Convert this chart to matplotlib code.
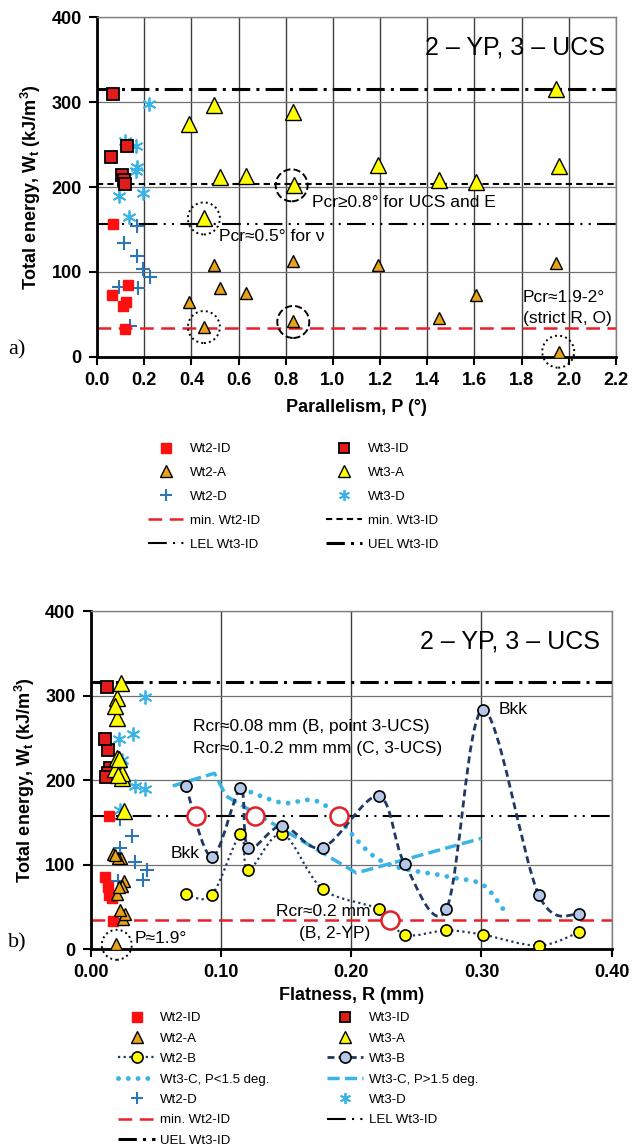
import numpy as np
import matplotlib
matplotlib.use('Agg')
import matplotlib.pyplot as plt
from matplotlib.lines import Line2D
from matplotlib.path import Path
from matplotlib.patches import PathPatch, Circle
from matplotlib.transforms import ScaledTranslation
from matplotlib.ticker import FormatStrFormatter

plt.rcParams['font.family'] = ['Liberation Sans', 'DejaVu Sans']
plt.rcParams['mathtext.fontset'] = 'custom'
plt.rcParams['mathtext.rm'] = 'Liberation Sans'
plt.rcParams['mathtext.bf'] = 'Liberation Sans:bold'

# ---- reference levels (kJ/m3)
uel_wt3 = 316
lel_wt3 = 157
min_wt3 = 203
min_wt2 = 34

# ---- a) parallelism
p_wt2_id = [0.069, 0.062, 0.109, 0.123, 0.133, 0.119]
w_wt2_id = [157, 73, 60, 64, 85, 33]
p_wt3_id = [0.068, 0.060, 0.128, 0.105, 0.115, 0.120]
w_wt3_id = [310, 235, 248, 214, 208, 203]
p_wt2_a = [0.496, 0.521, 0.630, 0.390, 0.453, 0.832, 0.832, 1.189, 1.449, 1.605, 1.944, 1.959]
w_wt2_a = [108, 81, 75, 65, 35, 113, 42, 108, 46, 73, 111, 6]
p_wt3_a = [0.390, 0.496, 0.521, 0.630, 0.832, 0.836, 0.453, 1.189, 1.449, 1.605, 1.944, 1.959]
w_wt3_a = [274, 297, 212, 213, 288, 202, 163, 226, 208, 206, 315, 225]
p_wt2_d = [0.168, 0.116, 0.168, 0.196, 0.225, 0.093, 0.175, 0.140]
w_wt2_d = [154, 134, 119, 103, 94, 82, 81, 36]
p_wt3_d = [0.220, 0.119, 0.165, 0.171, 0.165, 0.095, 0.196, 0.137]
w_wt3_d = [298, 254, 248, 224, 219, 189, 193, 165]
# highlighted points
p_circ = [0.825, 0.832, 0.453, 0.453, 1.955]
w_circ = [202, 41, 163, 35, 6]
circ_ls = ['--', '--', ':', ':', ':']

# ---- b) flatness
r_wt2_id = [0.014, 0.013, 0.016, 0.014, 0.011, 0.017]
r_wt3_id = [0.0128, 0.0135, 0.011, 0.0148, 0.013, 0.0115]
r_wt2_a = [0.0235, 0.0256, 0.0238, 0.0204, 0.025, 0.0174, 0.026, 0.021, 0.0225, 0.022, 0.019, 0.0197]
r_wt3_a = [0.020, 0.0204, 0.022, 0.019, 0.0187, 0.024, 0.0256, 0.0205, 0.0238, 0.021, 0.023, 0.0215]
r_wt2_d = [0.0225, 0.0315, 0.0225, 0.034, 0.043, 0.0404, 0.021, 0.0238]
r_wt3_d = [0.0417, 0.0327, 0.0217, 0.0237, 0.0225, 0.0417, 0.034, 0.0225]
r_b = [0.073, 0.093, 0.115, 0.121, 0.147, 0.178, 0.221, 0.241, 0.273, 0.301, 0.344, 0.375]
w_wt2_b = [65, 64, 136, 93, 136, 71, 47, 17, 22, 17, 4, 20]
w_wt3_b = [193, 109, 190, 120, 146, 120, 181, 101, 47, 283, 64, 41]
r_wt3_c_lo = [0.116, 0.147, 0.178, 0.221, 0.273, 0.301, 0.319]
w_wt3_c_lo = [190, 173, 172, 106, 86, 76, 42]
r_wt3_c_hi = [0.063, 0.095, 0.104, 0.204, 0.300]
w_wt3_c_hi = [193, 208, 181, 90, 131]
r_rcr = [0.081, 0.126, 0.191, 0.230]
w_rcr = [157, 157, 157, 34]
r_circ = [0.020]
w_circ_b = [5]

# ---- styles
RED = '#FF1010'
ORANGE = '#E8A317'
YELLOW = '#FFFF00'
BLUE = '#2E75B6'
LBLUE = '#3AB4E6'
NAVY = '#1F3864'
PALEBLUE = '#B4C7E7'

st_wt2_id = dict(marker='s', ls='none', mfc=RED, mec=RED, ms=7)
st_wt3_id = dict(marker='s', ls='none', mfc='#E41B1B', mec='black', mew=1.3, ms=8.5)
st_wt2_a = dict(marker='^', ls='none', mfc=ORANGE, mec='black', mew=1.0, ms=8)
st_wt3_a = dict(marker='^', ls='none', mfc=YELLOW, mec='black', mew=1.0, ms=11)
st_wt2_d = dict(marker='+', ls='none', color=BLUE, mew=1.5, ms=10)
st_wt3_d = dict(marker=(6, 2, 0), ls='none', color=LBLUE, mew=1.3, ms=10)
st_min2 = dict(color='#E8202A', lw=1.8, ls=(0, (5.5, 3)))
st_min3 = dict(color='black', lw=1.5, ls=(0, (3, 2)))
st_lel = dict(color='black', lw=1.5, ls=(0, (9, 3, 1, 3, 1, 3)))
st_uel = dict(color='black', lw=2.2, ls=(0, (6, 2, 1, 2)))
st_b2 = dict(color=NAVY, lw=1.6, ls=(0, (1, 1.5)))
st_b3 = dict(color=NAVY, lw=2.0, ls=(0, (2.5, 1.5)))
st_c_lo = dict(color=LBLUE, lw=3.5, ls=(0, (0.01, 2)), capstyle='round')
st_c_hi = dict(color=LBLUE, lw=2.5, ls=(0, (3.5, 1.5)))

ANN = 12.5


def smoothPath(x, y):
  # excel-like smoothed line through the points (catmull-rom as bezier)
  pts = np.column_stack([x, y]).astype(float)
  n = len(pts)
  verts = [pts[0]]
  codes = [Path.MOVETO]
  for i in range(n - 1):
    p0 = pts[max(i - 1, 0)]
    p1 = pts[i]
    p2 = pts[i + 1]
    p3 = pts[min(i + 2, n - 1)]
    verts += [p1 + (p2 - p0) / 6, p2 - (p3 - p1) / 6, p2]
    codes += [Path.CURVE4] * 3
  return Path(verts, codes)


def addSmooth(ax, x, y, st):
  st = dict(st)
  cap = st.pop('capstyle', 'butt')
  patch = PathPatch(smoothPath(x, y), fill=False, ec=st['color'], lw=st['lw'],
                    ls=st['ls'], capstyle=cap, zorder=3)
  ax.add_patch(patch)


def ringAt(ax, fig, x, y, ls, r=0.16):
  tr = fig.dpi_scale_trans + ScaledTranslation(x, y, ax.transData)
  ax.add_patch(Circle((0, 0), r, transform=tr, fill=False, ec='black', lw=1.4, ls=ls,
                      zorder=6, clip_on=False))


def styleAxes(ax):
  for s in ['left', 'bottom']:
    ax.spines[s].set_linewidth(2)
    ax.spines[s].set_color('black')
  for s in ['top', 'right']:
    ax.spines[s].set_linewidth(1)
    ax.spines[s].set_color('#808080')
  ax.tick_params(direction='out', length=6, width=1.5, labelsize=13, pad=5, top=False, right=False)
  for lab in ax.get_xticklabels() + ax.get_yticklabels():
    lab.set_fontweight('bold')
  ax.grid(True, axis='x', color='#404040', lw=1.0)
  ax.grid(True, axis='y', color='#707070', lw=0.9)
  ax.set_axisbelow(True)
  ax.set_ylim(0, 400)
  ax.set_yticks([0, 100, 200, 300, 400])
  ax.set_ylabel(r'Total energy, W$_{\mathbf{t}}$ (kJ/m$^{\mathbf{3}}$)', fontsize=13, fontweight='bold', labelpad=6)


def hlines(ax, levels):
  for lev, st in levels:
    ax.axhline(lev, zorder=2, **st)


def lh(st, **kw):
  st = dict(st)
  st.update(kw)
  cap = st.pop('capstyle', None)
  h = Line2D([], [], **st)
  if cap:
    h.set_dash_capstyle(cap)
  return h


fig = plt.figure(figsize=(6.32, 11.46), dpi=100)

# ================= a) =================
ax1 = fig.add_axes([0.1535, 0.6887, 0.8212, 0.2962])
hlines(ax1, [(uel_wt3, st_uel), (min_wt3, st_min3), (lel_wt3, st_lel), (min_wt2, st_min2)])
ax1.plot(p_wt2_d, w_wt2_d, zorder=4, **st_wt2_d)
ax1.plot(p_wt3_d, w_wt3_d, zorder=4, **st_wt3_d)
ax1.plot(p_wt2_id, w_wt2_id, zorder=5, **st_wt2_id)
ax1.plot(p_wt3_id, w_wt3_id, zorder=5, **st_wt3_id)
ax1.plot(p_wt2_a, w_wt2_a, zorder=5, **st_wt2_a)
ax1.plot(p_wt3_a, w_wt3_a, zorder=5, **st_wt3_a)
ax1.set_xlim(0, 2.2)
ax1.set_xticks(np.arange(0, 2.21, 0.2))
ax1.xaxis.set_major_formatter(FormatStrFormatter('%.1f'))
styleAxes(ax1)
ax1.set_xlabel('Parallelism, P (°)', fontsize=13, fontweight='bold', labelpad=7)
for x, y, ls in zip(p_circ, w_circ, circ_ls):
  ringAt(ax1, fig, x, y, ls)

ax1.text(2.153, 365, '2 – YP, 3 – UCS', fontsize=18, ha='right', va='center')
ax1.text(0.911, 182, 'Pcr≥0.8° for UCS and E', fontsize=ANN, va='center')
ax1.text(0.517, 142, 'Pcr≈0.5° for ν', fontsize=ANN, va='center')
ax1.text(1.805, 70, 'Pcr≈1.9-2°', fontsize=ANN, va='center')
ax1.text(1.805, 45, '(strict R, O)', fontsize=ANN, va='center')
fig.text(8 / 632, 1 - 350 / 1146, 'a)', family='Liberation Serif', fontsize=16, va='center')

h1 = [lh(st_wt2_id), lh(st_wt2_a), lh(st_wt2_d, ms=8), lh(st_min2), lh(st_lel),
      lh(st_wt3_id, ms=7.5), lh(st_wt3_a, ms=8.5), lh(st_wt3_d, ms=8), lh(st_min3), lh(st_uel)]
l1 = ['Wt2-ID', 'Wt2-A', 'Wt2-D', 'min. Wt2-ID', 'LEL Wt3-ID',
      'Wt3-ID', 'Wt3-A', 'Wt3-D', 'min. Wt3-ID', 'UEL Wt3-ID']
fig.legend(h1, l1, loc='upper left', bbox_to_anchor=(0.234, 0.6135), ncol=2, frameon=False,
           fontsize=9.5, borderpad=0, borderaxespad=0, handlelength=2.7, handletextpad=0.5,
           columnspacing=5.0, labelspacing=0.88)

# ================= b) =================
ax2 = fig.add_axes([0.1435, 0.1719, 0.8244, 0.2949])
hlines(ax2, [(uel_wt3, st_uel), (lel_wt3, st_lel), (min_wt2, st_min2)])
addSmooth(ax2, r_wt3_c_lo, w_wt3_c_lo, st_c_lo)
ax2.plot(r_wt3_c_hi, w_wt3_c_hi, zorder=3, **st_c_hi)
addSmooth(ax2, r_b, w_wt2_b, st_b2)
addSmooth(ax2, r_b, w_wt3_b, st_b3)
ax2.plot(r_b, w_wt2_b, 'o', ms=8, mfc=YELLOW, mec='black', mew=1.2, zorder=5)
ax2.plot(r_b, w_wt3_b, 'o', ms=8, mfc=PALEBLUE, mec='black', mew=1.2, zorder=5)
ax2.plot(r_rcr, w_rcr, 'o', ms=13, mfc='white', mec='#E0202A', mew=1.8, zorder=6)
ax2.plot(r_wt2_d, w_wt2_d, zorder=4, **st_wt2_d)
ax2.plot(r_wt3_d, w_wt3_d, zorder=4, **st_wt3_d)
ax2.plot(r_wt2_id, w_wt2_id, zorder=5, **st_wt2_id)
ax2.plot(r_wt3_id, w_wt3_id, zorder=5, **st_wt3_id)
ax2.plot(r_wt2_a, w_wt2_a, zorder=5, **st_wt2_a)
ax2.plot(r_wt3_a, w_wt3_a, zorder=5, **st_wt3_a)
ax2.set_xlim(0, 0.4)
ax2.set_xticks([0, 0.1, 0.2, 0.3, 0.4])
ax2.xaxis.set_major_formatter(FormatStrFormatter('%.2f'))
styleAxes(ax2)
ax2.set_xlabel('Flatness, R (mm)', fontsize=13, fontweight='bold', labelpad=4)
for x, y in zip(r_circ, w_circ_b):
  ringAt(ax2, fig, x, y, ':', r=0.15)

ax2.text(0.391, 364, '2 – YP, 3 – UCS', fontsize=18, ha='right', va='center')
ax2.text(0.0786, 263, 'Rcr≈0.08 mm (B, point 3-UCS)', fontsize=ANN, va='center')
ax2.text(0.0786, 237, 'Rcr≈0.1-0.2 mm mm (C, 3-UCS)', fontsize=ANN, va='center')
ax2.text(0.084, 113, 'Bkk', fontsize=ANN, ha='right', va='center')
ax2.text(0.3128, 284, 'Bkk', fontsize=ANN, va='center')
ax2.text(0.2146, 44, 'Rcr≈0.2 mm', fontsize=ANN, ha='right', va='center')
ax2.text(0.2146, 18, '(B, 2-YP)', fontsize=ANN, ha='right', va='center')
ax2.text(0.034, 12, 'P≈1.9°', fontsize=ANN, va='center')
fig.text(8 / 632, 1 - 943 / 1146, 'b)', family='Liberation Serif', fontsize=16, va='center')

hb2 = Line2D([], [], marker='o', ms=8, mfc=YELLOW, mec='black', mew=1.2, **st_b2)
hb3 = Line2D([], [], marker='o', ms=8, mfc=PALEBLUE, mec='black', mew=1.2, **st_b3)
h2 = [lh(st_wt2_id), lh(st_wt2_a), hb2, lh(st_c_lo), lh(st_wt2_d, ms=8), lh(st_min2), lh(st_uel),
      lh(st_wt3_id, ms=7.5), lh(st_wt3_a, ms=8.5), hb3, lh(st_c_hi), lh(st_wt3_d, ms=8), lh(st_lel)]
l2 = ['Wt2-ID', 'Wt2-A', 'Wt2-B', 'Wt3-C, P<1.5 deg.', 'Wt2-D', 'min. Wt2-ID', 'UEL Wt3-ID',
      'Wt3-ID', 'Wt3-A', 'Wt3-B', 'Wt3-C, P>1.5 deg.', 'Wt3-D', 'LEL Wt3-ID']
fig.legend(h2, l2, loc='upper left', bbox_to_anchor=(0.187, 0.1169), ncol=2, frameon=False,
           fontsize=9.5, borderpad=0, borderaxespad=0, handlelength=2.8, handletextpad=0.4,
           columnspacing=4.3, labelspacing=0.62)

fig.savefig('out.png', dpi=100)
